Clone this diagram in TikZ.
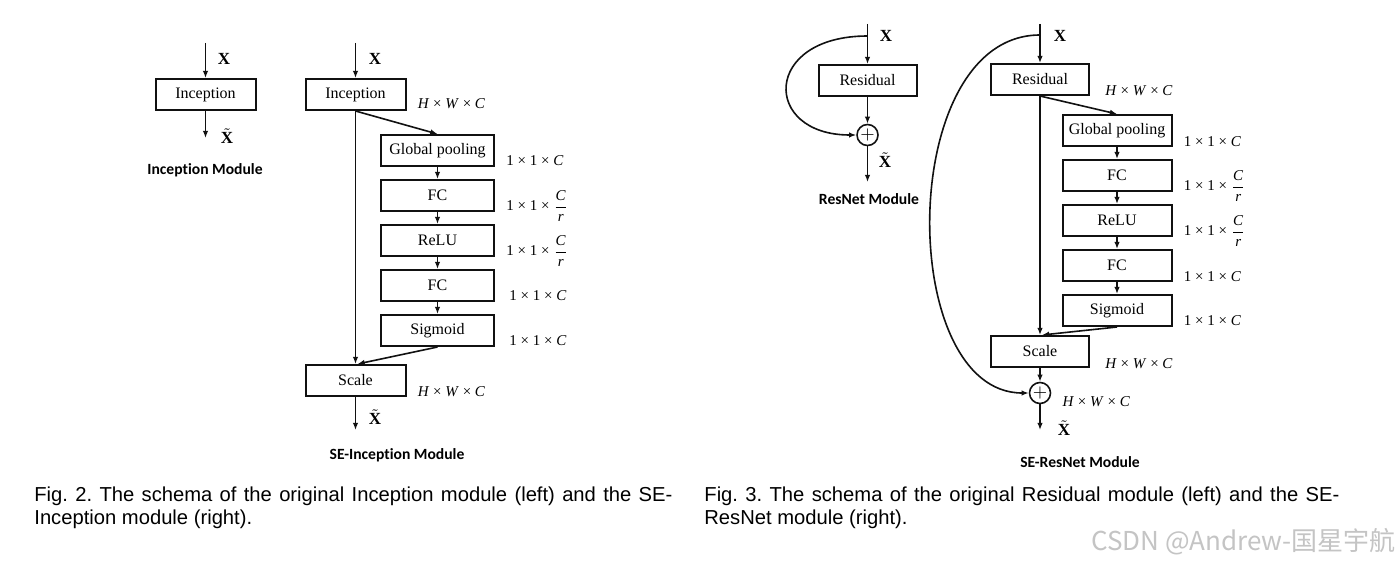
\documentclass[tikz,border=0pt]{standalone}
\usepackage{fontspec}
\usepackage{amsmath}
\setmainfont{Liberation Serif}
\newfontfamily\capfont{Liberation Sans}
\newfontfamily\headfont[Ligatures=NoCommon]{Carlito}
\newfontfamily\cjk{Noto Sans CJK SC}
\usetikzlibrary{positioning,arrows.meta}
\definecolor{ink}{HTML}{111111}
\definecolor{mark}{HTML}{C4C4C4}
\newcommand{\hwc}{\textit{H} × \textit{W} × \textit{C}}
\newcommand{\oneC}{1 × 1 × \textit{C}}
\newcommand{\oneCr}{1 × 1 × $\dfrac{\mbox{\itshape C}}{\mbox{\itshape r}}$}
\newcommand{\Xin}{\textbf{X}}
\newcommand{\Xout}{$\tilde{\mbox{\bfseries X}}$}

\begin{document}
\begin{tikzpicture}[
  x=0.5pt, y=-0.5pt,
  node distance=6pt,
  blk/.style={draw=ink, line width=1pt, minimum height=15.5pt, inner sep=0pt,
              font=\fontsize{8}{9.6}\selectfont},
  arr/.style={draw=ink, line width=0.8pt, -{Latex[length=3.6pt,width=2.8pt]}},
  sum/.style={draw=ink, circle, line width=0.8pt, minimum size=10.5pt, inner sep=0pt,
              font=\fontsize{9}{9}\selectfont},
  dim/.style={anchor=west, inner sep=0pt, font=\fontsize{7.5}{9}\selectfont},
  var/.style={inner sep=0pt, font=\fontsize{8.5}{10}\selectfont},
  title/.style={inner sep=0pt, font=\headfont\bfseries\fontsize{7.8}{9}\selectfont},
  caption/.style={anchor=north west, align=justify, inner sep=0pt,
                  font=\capfont\frenchspacing\fontsize{10.1}{11.6}\selectfont},
]

\fill[white] (0,0) rectangle (1400,567);
\useasboundingbox (0,0) rectangle (1400,567);

\node[blk, minimum width=50pt] (inc) at (205.5,94.5) {Inception};
\coordinate (incin) at (205.5,43);
\coordinate (incout) at (205.5,138);
\node[var] (incx) at (224,59) {\Xin};
\node[var] (incxt) at (227,136) {\Xout};
\node[title] (inct) at (205,170) {Inception Module};
\draw[arr] (incin) -- (inc.north);
\draw[arr] (inc.south) -- (incout);

\node[blk, minimum width=50pt] (seinc) at (355.5,94.5) {Inception};
\node[blk, minimum width=56.5pt] (gpa) at (437.5,150.5) {Global pooling};
\node[blk, minimum width=56.5pt, below=of gpa] (fca) {FC};
\node[blk, minimum width=56.5pt, below=of fca] (relua) {ReLU};
\node[blk, minimum width=56.5pt, below=of relua] (fcb) {FC};
\node[blk, minimum width=56.5pt, below=of fcb] (siga) {Sigmoid};
\node[blk, minimum width=50pt] (scalea) at (355.5,380.5) {Scale};
\coordinate (seincin) at (355.5,43);
\coordinate (seincout) at (355.5,430);
\node[var] (seincx) at (375,59) {\Xin};
\node[var] (seincxt) at (375,417) {\Xout};
\node[title] (seinct) at (397,455) {SE-Inception Module};
\node[dim] at ([xshift=5.5pt,yshift=3.5pt]seinc.south east) {\hwc};
\node[dim] at ([xshift=5.5pt,yshift=3pt]gpa.south east) {\oneC};
\node[dim] at ([xshift=5.5pt,yshift=3pt]fca.south east) {\oneCr};
\node[dim] at ([xshift=5.5pt,yshift=3pt]relua.south east) {\oneCr};
\node[dim] at ([xshift=7pt,yshift=3pt]fcb.south east) {\oneC};
\node[dim] at ([xshift=7pt,yshift=3pt]siga.south east) {\oneC};
\node[dim] at ([xshift=5.5pt,yshift=2.5pt]scalea.south east) {\hwc};
\draw[arr] (seincin) -- (seinc.north);
\draw[arr] (seinc.south) -- (gpa.north);
\draw[arr] (gpa) -- (fca);
\draw[arr] (fca) -- (relua);
\draw[arr] (relua) -- (fcb);
\draw[arr] (fcb) -- (siga);
\draw[arr] (seinc.south) -- (scalea.north);
\draw[arr] (siga.south) -- ([xshift=1pt]scalea.north);
\draw[arr] (scalea.south) -- (seincout);

\node[blk, minimum width=49pt] (res) at (867.5,80.5) {Residual};
\node[sum] (suma) at (867.5,135) {$+$};
\coordinate (resin) at (867.5,24);
\coordinate (resfork) at (867.5,36);
\coordinate (resout) at (867.5,182);
\node[var] (resx) at (886,36) {\Xin};
\node[var] (resxt) at (885,160) {\Xout};
\node[title] (rest) at (869,199) {ResNet Module};
\draw[arr] (resin) -- (res.north);
\draw[arr] (res.south) -- (suma.north);
\draw[arr] (resfork) .. controls (762,36) and (762,135) .. (suma.west);
\draw[arr] (suma.south) -- (resout);

\node[blk, minimum width=49pt] (seres) at (1040,79.5) {Residual};
\node[blk, minimum width=54.5pt] (gpb) at (1117,130.5) {Global pooling};
\node[blk, minimum width=54.5pt, below=of gpb] (fcc) {FC};
\node[blk, minimum width=54.5pt, below=of fcc] (relub) {ReLU};
\node[blk, minimum width=54.5pt, below=of relub] (fcd) {FC};
\node[blk, minimum width=54.5pt, below=of fcd] (sigb) {Sigmoid};
\node[blk, minimum width=49pt] (scaleb) at (1040,351.5) {Scale};
\node[sum] (sumb) at (1040,393) {$+$};
\coordinate (seresin) at (1040,24);
\coordinate (seresfork) at (1040,35);
\coordinate (seresout) at (1040,430);
\node[var] (seresx) at (1060,36) {\Xin};
\node[var] (seresxt) at (1064,428) {\Xout};
\node[title] (serest) at (1080,462) {SE-ResNet Module};
\node[dim] at ([xshift=7.5pt,yshift=2.5pt]seres.south east) {\hwc};
\node[dim] at ([xshift=5.5pt,yshift=2.5pt]gpb.south east) {\oneC};
\node[dim] at ([xshift=5.5pt,yshift=3pt]fcc.south east) {\oneCr};
\node[dim] at ([xshift=5.5pt,yshift=3pt]relub.south east) {\oneCr};
\node[dim] at ([xshift=5.5pt,yshift=2.5pt]fcd.south east) {\oneC};
\node[dim] at ([xshift=5.5pt,yshift=3pt]sigb.south east) {\oneC};
\node[dim] at ([xshift=7.5pt,yshift=2pt]scaleb.south east) {\hwc};
\node[dim] at ([xshift=5.5pt,yshift=-4.5pt]sumb.east) {\hwc};
\draw[arr] (seresin) -- (seres.north);
\draw[arr] (seres.south) -- (gpb.north);
\draw[arr] (gpb) -- (fcc);
\draw[arr] (fcc) -- (relub);
\draw[arr] (relub) -- (fcd);
\draw[arr] (fcd) -- (sigb);
\draw[arr] (seres.south) -- (scaleb.north);
\draw[arr] (sigb.south) -- ([xshift=1pt]scaleb.north);
\draw[arr] (scaleb.south) -- (sumb.north);
\draw[arr] (seresfork) .. controls (896,35) and (896,393) .. (sumb.west);
\draw[arr] (sumb.south) -- (seresout);

\node[caption, text width=319pt] (capa) at (34,486) {Fig. 2. The schema of the original Inception module (left) and the SE-\linebreak Inception module (right).};
\node[caption, text width=317.5pt] (capb) at (704,486) {Fig. 3. The schema of the original Residual module (left) and the SE-\linebreak ResNet module (right).};
\node[anchor=east, inner sep=0pt, text=mark, font=\cjk\fontsize{13}{14}\selectfont] (wm) at (1396,542) {CSDN @Andrew-国星宇航};

\end{tikzpicture}
\end{document}
